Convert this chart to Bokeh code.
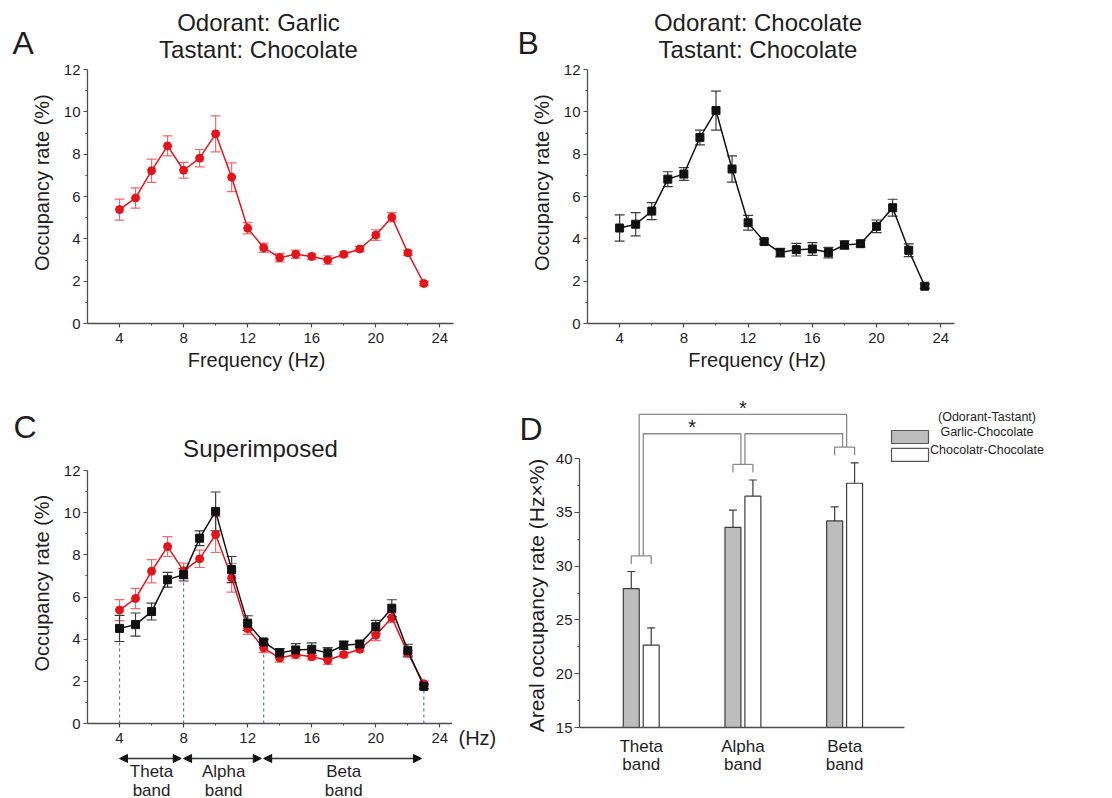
import math
from bokeh.plotting import figure
from bokeh.layouts import row, column
from bokeh.models import (ColumnDataSource, Whisker, TeeHead, Arrow,
                          NormalHead, FixedTicker)
from bokeh.embed import file_html
from bokeh.resources import INLINE
from bokeh.core.properties import value

# ---------------- data ----------------
freq = list(range(4, 24))
garlic = [5.38, 5.93, 7.22, 8.39, 7.24, 7.81, 8.96, 6.91, 4.50, 3.58,
          3.11, 3.27, 3.17, 3.00, 3.27, 3.52, 4.18, 5.02, 3.34, 1.89]
garlic_err = [0.50, 0.48, 0.55, 0.47, 0.37, 0.41, 0.85, 0.68, 0.27, 0.22,
              0.20, 0.20, 0.15, 0.20, 0.12, 0.12, 0.25, 0.22, 0.12, 0.10]
choc = [4.51, 4.69, 5.31, 6.82, 7.06, 8.79, 10.06, 7.30, 4.76, 3.87,
        3.35, 3.49, 3.52, 3.35, 3.71, 3.77, 4.59, 5.47, 3.46, 1.76]
choc_err = [0.62, 0.55, 0.40, 0.35, 0.30, 0.35, 0.92, 0.62, 0.35, 0.12,
            0.20, 0.30, 0.30, 0.25, 0.20, 0.15, 0.30, 0.40, 0.30, 0.10]

bands = ["Theta band", "Alpha band", "Beta band"]
band_edges = [4, 8, 13, 23]
areal_garlic = [27.9, 33.6, 34.2]
areal_garlic_err = [1.6, 1.6, 1.3]
areal_choc = [22.65, 36.5, 37.7]
areal_choc_err = [1.6, 1.5, 1.9]
series_names = ["Garlic-Chocolate", "Chocolatr-Chocolate"]
legend_title = "(Odorant-Tastant)"

titles_A = ["Odorant: Garlic", "Tastant: Chocolate"]
titles_B = ["Odorant: Chocolate", "Tastant: Chocolate"]
title_C = "Superimposed"
panel_letters = ["A", "B", "C", "D"]
freq_label = "Frequency (Hz)"
occ_label = "Occupancy rate (%)"
areal_label = "Areal occupancy rate (Hz×%)"
hz_unit = "(Hz)"

x_ticks = [4, 8, 12, 16, 20, 24]
x_minor = [6, 10, 14, 18, 22]
y_ticks = [0, 2, 4, 6, 8, 10, 12]
y_minor = [1, 3, 5, 7, 9, 11]
d_ticks = [15, 20, 25, 30, 35, 40]
d_minor = [17.5, 22.5, 27.5, 32.5, 37.5]

# ---------------- style ----------------
FONT = "Liberation Sans"
NB = "\u00a0"
AX = "#4d4d4d"
TXT = "#1e1e1e"
RED = "#e3141c"
RED_ERR = "#ef6a6a"
BLK = "#111111"
BLK_ERR = "#3a3a3a"
GRAY_BAR = "#bdbdbd"
BAR_LINE = "#3c3c3c"
BRACKET = "#8a8a8a"
BLUE = "#5b74c9"
SHIFT = 0.37          # em fraction: single-line text is drawn this much low
D_PX = 10.76          # pixels per unit on the D y axis


def base_fig(xr, yr, fw, fh, left, right, top, bottom, **kw):
    p = figure(x_range=xr, y_range=yr, frame_width=fw, frame_height=fh,
               min_border_left=left, min_border_right=right,
               min_border_top=top, min_border_bottom=bottom,
               toolbar_location=None, output_backend="svg", **kw)
    if "frame_align" in p.properties():
        p.frame_align = False
    p.outline_line_color = None
    p.grid.visible = False
    p.background_fill_color = "white"
    p.border_fill_color = "white"
    return p


class Pane:
    """A bare figure used to hold free text, in picture pixel coordinates."""

    def __init__(self, ox, oy, w, h):
        self.ox, self.oy, self.w, self.h = ox, oy, w, h
        self.p = base_fig((0, w), (0, h), w, h, 0, 0, 0, 0,
                          x_axis_location=None, y_axis_location=None)

    def text(self, s, x, y, size, align="left", baseline="alphabetic", angle=0.0,
             dx=0.0, dy=None):
        if dy is None:
            dy = SHIFT * size
        self.p.text(x=[x - self.ox + dx], y=[self.oy + self.h - y + dy], text=[s],
                    angle=angle, text_font=value(FONT), text_font_size=f"{size}px",
                    text_align=align, text_baseline=baseline, text_color=TXT)


def style_axes(p):
    for ax in p.axis:
        ax.axis_line_color = AX
        ax.axis_line_width = 1.3
        ax.major_tick_line_color = AX
        ax.minor_tick_line_color = AX
        ax.major_tick_line_width = 1.2
        ax.minor_tick_line_width = 1.0
        ax.major_tick_in = 0
        ax.major_tick_out = 4
        ax.minor_tick_in = 0
        ax.minor_tick_out = 2
        ax.major_label_text_font = FONT
        ax.major_label_text_font_size = "15px"
        ax.major_label_text_color = TXT
        ax.major_label_standoff = 3
        ax.axis_label_text_font = FONT
        ax.axis_label_text_font_size = "20px"
        ax.axis_label_text_font_style = "normal"
        ax.axis_label_text_color = TXT


def freq_fig(x_end, fw, left, right, top, fh, bottom, xlabel=True):
    p = base_fig((2, x_end), (0, 12), fw, fh, left, right, top, bottom)
    p.xaxis.ticker = FixedTicker(ticks=x_ticks, minor_ticks=x_minor)
    p.yaxis.ticker = FixedTicker(ticks=y_ticks, minor_ticks=y_minor)
    style_axes(p)
    p.xaxis.major_label_standoff = 5
    p.yaxis.axis_label = NB * 5 + occ_label
    p.yaxis.axis_label_standoff = 8
    if xlabel:
        p.xaxis.axis_label = freq_label + NB * 5
        p.xaxis.axis_label_standoff = 3
    return p


def draw_series(p, y, err, color, err_color, marker):
    src = ColumnDataSource(dict(x=freq, y=y,
                                lo=[a - b for a, b in zip(y, err)],
                                hi=[a + b for a, b in zip(y, err)]))
    p.add_layout(Whisker(source=src, base="x", upper="hi", lower="lo",
                         line_color=err_color, line_width=1.2,
                         upper_head=TeeHead(size=10, line_color=err_color, line_width=1.2),
                         lower_head=TeeHead(size=10, line_color=err_color, line_width=1.2)))
    p.line("x", "y", source=src, line_color=color, line_width=1.5)
    p.scatter("x", "y", source=src, marker=marker, size=8,
              fill_color=color, line_color=color)


# ---------------- row 1 : panels A and B ----------------
hA = Pane(0, 0, 508, 62)
hA.text(panel_letters[0], 12, 54.5, 32)
hA.text(titles_A[0], 258, 30.5, 24, align="center")
hA.text(titles_A[1], 258, 57.5, 24, align="center")
pA = freq_fig(24.85, 366, 87, 55, 7, 254, 65)
draw_series(pA, garlic, garlic_err, RED, RED_ERR, "circle")

hB = Pane(508, 0, 604, 62)
hB.text(panel_letters[1], 517, 54.5, 32)
hB.text(titles_B[0], 757.5, 30.5, 24, align="center")
hB.text(titles_B[1], 757.5, 57.5, 24, align="center")
pB = freq_fig(24.85, 367, 79, 158, 7, 254, 65)
draw_series(pB, choc, choc_err, BLK, BLK_ERR, "square")

# ---------------- row 2 left : panel C ----------------
hC = Pane(0, 388, 508, 75)
hC.text(panel_letters[2], 13, 438, 32)
hC.text(title_C, 260, 457, 24, align="center")

pC = freq_fig(24.79, 365, 87, 0, 7, 253, 28, xlabel=False)
edge_tops = []
for f in band_edges:
    i = freq.index(f)
    edge_tops.append(min(garlic[i] - garlic_err[i], choc[i] - choc_err[i]))
pC.segment(x0=band_edges, y0=[0] * len(band_edges), x1=band_edges, y1=edge_tops,
           line_color=BLUE, line_dash="3 3", line_width=1.2)
draw_series(pC, garlic, garlic_err, RED, RED_ERR, "circle")
draw_series(pC, choc, choc_err, BLK, BLK_ERR, "square")

hz = Pane(452, 463, 56, 288)
hz.text(hz_unit, 458, 745, 20)

pBand = base_fig(pC.x_range, (0, 47), 365, 47, 87, 56, 0, 0,
                 x_axis_location=None, y_axis_location=None)
for i in range(len(bands)):
    pBand.add_layout(Arrow(x_start=band_edges[i], y_start=40,
                           x_end=band_edges[i + 1] - 0.15, y_end=40,
                           line_color="#333333", line_width=1.3,
                           start=NormalHead(size=8, fill_color="#111111", line_color="#111111"),
                           end=NormalHead(size=8, fill_color="#111111", line_color="#111111")))
mids = [(band_edges[i] + band_edges[i + 1]) / 2 for i in range(len(bands))]
pBand.text(x=mids, y=[18] * len(bands), text=[b.replace(" ", "\n") for b in bands],
           text_align="center", text_baseline="middle", text_font=value(FONT),
           text_font_size="17px", text_color=TXT, text_line_height=1.0)

# ---------------- row 2 right : panel D ----------------
sD = Pane(508, 388, 44, 410)
sD.text(panel_letters[3], 519, 440, 32)
sD.text(areal_label, 539, 595, 21, align="center", baseline="middle",
        angle=math.pi / 2, dx=-3.0, dy=0.0)

pD = base_fig((-0.607, 4.526), (15, 46.32), 522, 337, 26, 12, 2, 71)
pD.xaxis.ticker = FixedTicker(ticks=list(range(len(bands))), minor_ticks=[])
pD.yaxis.ticker = FixedTicker(ticks=d_ticks, minor_ticks=d_minor)
style_axes(pD)
pD.xaxis.major_tick_out = 0
pD.xaxis.major_label_overrides = {i: b.replace(" ", "\n") for i, b in enumerate(bands)}
pD.xaxis.major_label_text_font_size = "17px"
pD.xaxis.major_label_text_line_height = 0.95
pD.xaxis.major_label_standoff = 9
pD.xaxis.bounds = (-0.607, 2.586)
pD.yaxis.bounds = (15, 40)
pD.yaxis.major_tick_out = 5
pD.yaxis.major_label_standoff = 2

idx = list(range(len(bands)))
off = 0.098
bw = 0.157
ybase = 15
gx = [i - off for i in idx]
cx = [i + off for i in idx]
pD.vbar(x=gx, top=areal_garlic, bottom=ybase, width=bw, fill_color=GRAY_BAR,
        line_color=BAR_LINE, line_width=1.2)
pD.vbar(x=cx, top=areal_choc, bottom=ybase, width=bw, fill_color="white",
        line_color=BAR_LINE, line_width=1.2)
for xs_, v, e in ((gx, areal_garlic, areal_garlic_err), (cx, areal_choc, areal_choc_err)):
    s = ColumnDataSource(dict(x=xs_, lo=v, hi=[a + b for a, b in zip(v, e)]))
    pD.add_layout(Whisker(source=s, base="x", upper="hi", lower="lo",
                          line_color=BAR_LINE, line_width=1.2, lower_head=None,
                          upper_head=TeeHead(size=8, line_color=BAR_LINE, line_width=1.2)))

# significance brackets
tops = [max(g + ge, c + ce) for g, ge, c, ce in
        zip(areal_garlic, areal_garlic_err, areal_choc, areal_choc_err)]
sub_y = [t + 1.45 for t in tops]
tick = 0.75
bxs, bys = [], []
for i, sy in enumerate(sub_y):
    bxs.append([i - off, i - off, i + off, i + off])
    bys.append([sy - tick, sy, sy, sy - tick])
lvl1 = max(sub_y) + 1.25
lvl2 = max(sub_y) + 3.05
dd = 0.02
bxs.append([0 - dd, 0 - dd, 2 + dd, 2 + dd]); bys.append([sub_y[0], lvl2, lvl2, sub_y[2]])
bxs.append([0 + dd, 0 + dd, 1 - dd, 1 - dd]); bys.append([sub_y[0], lvl1, lvl1, sub_y[1]])
bxs.append([1 + dd, 1 + dd, 2 - dd, 2 - dd]); bys.append([sub_y[1], lvl1, lvl1, sub_y[2]])
pD.multi_line(xs=bxs, ys=bys, line_color=BRACKET, line_width=1.3)
star_lift = (SHIFT * 20 - 1) / D_PX
pD.text(x=[0.5, 1.0], y=[lvl1 + star_lift, lvl2 + star_lift], text=["*", "*"],
        text_align="center", text_baseline="alphabetic", text_font=value(FONT),
        text_font_size="20px", text_color=TXT)

# legend, drawn in the extended frame right of the axis
leg_box_x = 2.643
leg_txt_x = 3.40
leg_rows = [42.0, 40.33]
leg_lift = SHIFT * 12.5 / D_PX
pD.rect(x=[leg_box_x] * 2, y=leg_rows, width=37, height=13,
        width_units="screen", height_units="screen",
        fill_color=[GRAY_BAR, "white"], line_color="#555555", line_width=1.2)
pD.text(x=[leg_txt_x] * 3, y=[v + leg_lift for v in [43.44] + leg_rows],
        text=[legend_title] + series_names,
        text_align="center", text_baseline="middle", text_font=value(FONT),
        text_font_size="12.5px", text_color=TXT)

layout = column(
    row(column(hA.p, pA, spacing=0), column(hB.p, pB, spacing=0), spacing=0),
    row(column(hC.p, row(pC, hz.p, spacing=0), pBand, spacing=0),
        row(sD.p, pD, spacing=0), spacing=0),
    spacing=0)

open("out.html", "w").write(file_html(layout, INLINE, title="Occupancy rate"))
